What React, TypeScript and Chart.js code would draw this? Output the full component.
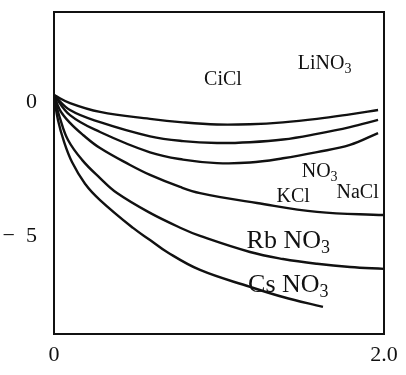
import React, { useEffect, useRef } from "react";
import { Chart, registerables } from "chart.js";

Chart.register(...registerables);

// ---- axis ticks ----
const xTickValues = [0, 2];
const xTickLabels = ["0", "2.0"];
const yTickValues = [0, -5];
const yTickLabels = ["0", "\u2212  5"];
const xMin = 0;
const xMax = 2;
const yMin = -8.66;
const yMax = 3.36;

// ---- series (x = concentration, y = value) ----
const curve1X = [0, 0.097, 0.279, 0.582, 0.782, 0.988, 1.188, 1.388, 1.594, 1.794, 1.964];
const curve1Y = [0.26, -0.04, -0.37, -0.63, -0.76, -0.84, -0.83, -0.76, -0.63, -0.46, -0.3];

const curve2X = [0, 0.097, 0.279, 0.582, 0.782, 0.988, 1.188, 1.388, 1.594, 1.794, 1.964];
const curve2Y = [0.26, -0.3, -0.75, -1.28, -1.46, -1.53, -1.5, -1.4, -1.19, -0.94, -0.67];

const curve3X = [0, 0.097, 0.279, 0.582, 0.782, 0.988, 1.188, 1.388, 1.594, 1.794, 1.964];
const curve3Y = [0.26, -0.49, -1.12, -1.88, -2.15, -2.28, -2.26, -2.1, -1.87, -1.6, -1.16];

const kclX = [0, 0.036, 0.097, 0.176, 0.279, 0.461, 0.582, 0.764, 0.885, 1.23, 1.594, 2.0];
const kclY = [0.26, -0.3, -0.78, -1.23, -1.72, -2.35, -2.72, -3.17, -3.4, -3.77, -4.1, -4.22];

const rbX = [0, 0.036, 0.085, 0.17, 0.279, 0.382, 0.582, 0.782, 0.885, 1.188, 1.388, 1.594, 1.794, 2.0];
const rbY = [0.19, -0.6, -1.42, -2.16, -2.84, -3.4, -4.14, -4.74, -5.0, -5.6, -5.86, -6.04, -6.16, -6.23];

const csX = [0, 0.024, 0.061, 0.109, 0.188, 0.279, 0.479, 0.582, 0.685, 0.885, 1.188, 1.388, 1.63];
const csY = [0.19, -0.67, -1.49, -2.24, -3.05, -3.66, -4.7, -5.15, -5.6, -6.27, -6.9, -7.28, -7.65];

const seriesX = [curve1X, curve2X, curve3X, kclX, rbX, csX];
const seriesY = [curve1Y, curve2Y, curve3Y, kclY, rbY, csY];

// ---- in-plot labels (text parts: [text, isSubscript]) ----
const labelTexts: [string, boolean][][] = [
  [["CiCl", false]],
  [["LiNO", false], ["3", true]],
  [["NO", false], ["3", true]],
  [["KCl", false]],
  [["NaCl", false]],
  [["Rb NO", false], ["3", true]],
  [["Cs NO", false], ["3", true]],
];
const labelX = [1.024, 1.64, 1.61, 1.45, 1.84, 1.42, 1.42];
const labelY = [0.82, 1.42, -2.61, -3.54, -3.4, -5.19, -6.83];
const labelSize = [20, 20, 20, 20, 20, 26, 26];

const FONT = "'Liberation Serif', 'Times New Roman', serif";
const INK = "#111";

const framePlugin = {
  id: "frameAndLabels",
  afterDatasetsDraw(chart: any) {
    const { ctx, chartArea, scales } = chart;
    ctx.save();
    ctx.strokeStyle = INK;
    ctx.lineWidth = 2;
    ctx.strokeRect(chartArea.left, chartArea.top, chartArea.right - chartArea.left, chartArea.bottom - chartArea.top);
    ctx.fillStyle = INK;
    ctx.textBaseline = "middle";
    ctx.textAlign = "left";
    labelTexts.forEach((parts, i) => {
      const size = labelSize[i];
      const subSize = Math.round(size * 0.68);
      let total = 0;
      parts.forEach(([t, sub]) => {
        ctx.font = `${sub ? subSize : size}px ${FONT}`;
        total += ctx.measureText(t).width;
      });
      const cx = scales.x.getPixelForValue(labelX[i]);
      const cy = scales.y.getPixelForValue(labelY[i]);
      let x = cx - total / 2;
      parts.forEach(([t, sub]) => {
        ctx.font = `${sub ? subSize : size}px ${FONT}`;
        ctx.fillText(t, x, sub ? cy + size * 0.28 : cy);
        x += ctx.measureText(t).width;
      });
    });
    ctx.restore();
  },
};

export default function App() {
  const ref = useRef<HTMLCanvasElement>(null);
  useEffect(() => {
    const canvas = ref.current!;
    const datasets = seriesX.map((xs, i) => ({
      data: xs.map((x, j) => ({ x, y: seriesY[i][j] })),
      borderColor: INK,
      borderWidth: 2.4,
      pointRadius: 0,
      fill: false,
      tension: 0.4,
      cubicInterpolationMode: "default" as const,
    }));
    const chart = new Chart(canvas, {
      type: "line",
      data: { datasets },
      options: {
        responsive: false,
        animation: false,
        devicePixelRatio: 1,
        layout: { padding: { top: 12, right: 22, left: 0, bottom: 0 } },
        plugins: { legend: { display: false }, tooltip: { enabled: false } },
        scales: {
          x: {
            type: "linear",
            min: xMin,
            max: xMax,
            grid: { display: false, drawTicks: false },
            border: { display: false },
            afterBuildTicks: (s: any) => {
              s.ticks = xTickValues.map((v) => ({ value: v }));
            },
            afterFit: (s: any) => {
              s.height = 41;
              s.paddingLeft = 0;
              s.paddingRight = 0;
              s.paddingTop = 0;
              s.paddingBottom = 0;
            },
            ticks: {
              autoSkip: false,
              maxRotation: 0,
              padding: 10,
              color: INK,
              font: { family: FONT, size: 22, lineHeight: 1 },
              callback: (v: any) => {
                const k = xTickValues.indexOf(Number(v));
                return k >= 0 ? xTickLabels[k] : "";
              },
            },
          },
          y: {
            type: "linear",
            min: yMin,
            max: yMax,
            grid: { display: false, drawTicks: false },
            border: { display: false },
            afterBuildTicks: (s: any) => {
              s.ticks = yTickValues.map((v) => ({ value: v }));
            },
            afterFit: (s: any) => {
              s.width = 54;
              s.paddingLeft = 0;
              s.paddingRight = 0;
              s.paddingTop = 0;
              s.paddingBottom = 0;
            },
            ticks: {
              autoSkip: false,
              padding: 17,
              color: INK,
              font: { family: FONT, size: 22, lineHeight: 1 },
              callback: (v: any) => {
                const k = yTickValues.indexOf(Number(v));
                return k >= 0 ? yTickLabels[k] : "";
              },
            },
          },
        },
      },
      plugins: [framePlugin],
    });
    return () => chart.destroy();
  }, []);

  return (
    <div style={{ position: "fixed", left: 0, top: 0, width: 406, height: 375, background: "#fff" }}>
      <canvas ref={ref} width={406} height={375} style={{ display: "block" }} />
    </div>
  );
}
